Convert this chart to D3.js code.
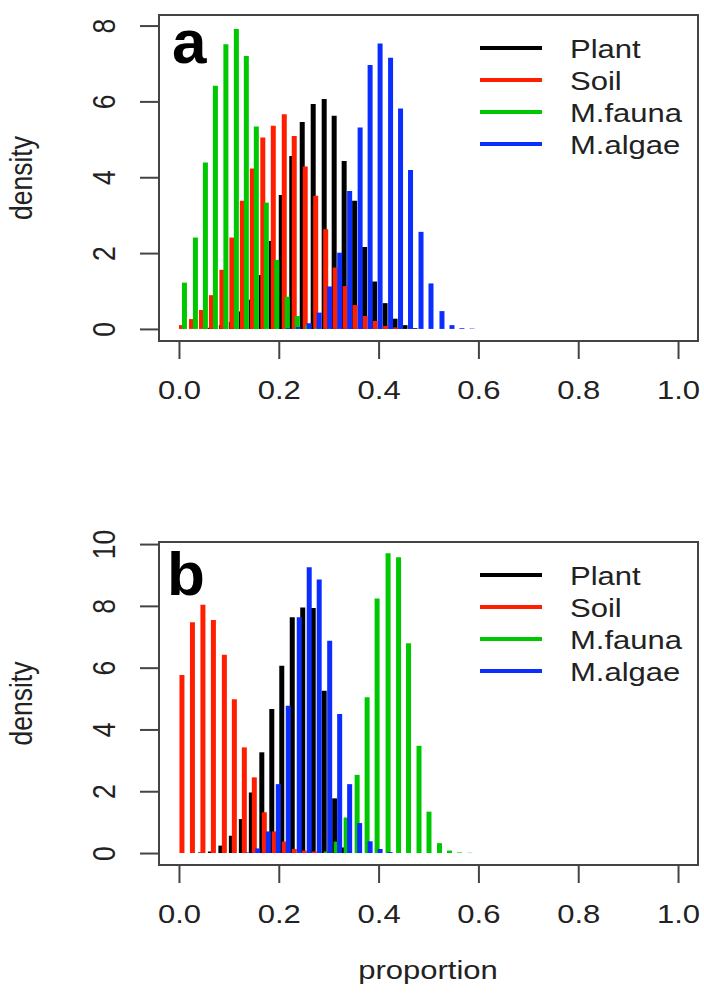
<!DOCTYPE html>
<html>
<head>
<meta charset="utf-8">
<script src="https://cdn.jsdelivr.net/npm/d3@7"></script>
<style>
  body { margin: 0; background: #fff; }
  svg text { font-family: "Liberation Sans", Arial, sans-serif; fill: #222; }
</style>
</head>
<body>
<div id="chart"></div>
<script>
// sources, in legend order
var sources = ["Plant", "Soil", "M.fauna", "M.algae"];
var sourceColors = ["#000000", "#ff1f00", "#00c800", "#0b2dff"];

var xTicks = [0, 0.2, 0.4, 0.6, 0.8, 1.0];
var yTicksA = [0, 2, 4, 6, 8];
var yTicksB = [0, 2, 4, 6, 8, 10];
var yMaxA = 7.96;
var yMaxB = 9.68;

// panel a : bin mids (proportion) and density
var aPlantX = [0.063, 0.085, 0.105, 0.125, 0.145, 0.165, 0.185, 0.205, 0.226, 0.247, 0.269, 0.291, 0.311, 0.331, 0.352, 0.372, 0.392, 0.413, 0.433, 0.453, 0.473];
var aPlantY = [0.03, 0.1, 0.18, 0.46, 0.77, 1.42, 2.32, 3.53, 4.56, 5.46, 5.93, 6.06, 5.62, 4.43, 3.38, 2.16, 1.25, 0.68, 0.27, 0.1, 0.02];
var aSoilX = [0.005, 0.025, 0.045, 0.065, 0.086, 0.106, 0.127, 0.147, 0.168, 0.189, 0.211, 0.231, 0.253, 0.274, 0.294, 0.313, 0.333, 0.353, 0.373, 0.393, 0.414, 0.434];
var aSoilY = [0.1, 0.26, 0.5, 0.89, 1.56, 2.41, 3.38, 4.23, 5.05, 5.36, 5.66, 5.09, 4.28, 3.51, 2.63, 1.62, 1.13, 0.63, 0.34, 0.21, 0.08, 0.04];
var aFaunaX = [0.011, 0.033, 0.053, 0.073, 0.094, 0.115, 0.135, 0.155, 0.175, 0.196, 0.217, 0.237, 0.258, 0.278];
var aFaunaY = [1.22, 2.41, 4.39, 6.41, 7.51, 7.91, 7.2, 5.34, 3.33, 1.82, 0.85, 0.34, 0.1, 0.03];
var aAlgaeX = [0.219, 0.239, 0.261, 0.281, 0.302, 0.322, 0.342, 0.363, 0.383, 0.403, 0.424, 0.444, 0.464, 0.485, 0.505, 0.527, 0.547, 0.567, 0.587];
var aAlgaeY = [0.02, 0.05, 0.15, 0.43, 1.12, 2.01, 3.64, 5.31, 6.96, 7.53, 7.15, 5.81, 4.19, 2.56, 1.2, 0.47, 0.1, 0.02, 0.01];

// panel b
var bPlantX = [0.043, 0.063, 0.084, 0.105, 0.125, 0.145, 0.166, 0.186, 0.206, 0.227, 0.248, 0.269, 0.291, 0.312, 0.331];
var bPlantY = [0.02, 0.05, 0.24, 0.56, 1.1, 1.96, 3.26, 4.66, 6.06, 7.63, 7.95, 7.93, 5.25, 1.77, 0.18];
var bSoilX = [0.006, 0.027, 0.048, 0.069, 0.091, 0.111, 0.131, 0.151, 0.171, 0.191, 0.211, 0.231, 0.251, 0.271];
var bSoilY = [5.76, 7.47, 8.04, 7.54, 6.42, 4.98, 3.42, 2.45, 1.32, 0.7, 0.37, 0.13, 0.08, 0.05];
var bFaunaX = [0.295, 0.315, 0.335, 0.357, 0.377, 0.397, 0.419, 0.44, 0.46, 0.481, 0.501, 0.522, 0.542, 0.562, 0.583];
var bFaunaY = [0.05, 0.37, 1.15, 2.53, 5.04, 8.24, 9.7, 9.57, 6.79, 3.47, 1.34, 0.32, 0.08, 0.02, 0.01];
var bAlgaeX = [0.138, 0.158, 0.179, 0.199, 0.219, 0.241, 0.261, 0.281, 0.302, 0.322, 0.342, 0.362, 0.383, 0.403, 0.423];
var bAlgaeY = [0.02, 0.15, 0.7, 2.23, 4.77, 7.63, 9.25, 8.85, 6.87, 4.5, 2.23, 0.97, 0.38, 0.13, 0.03];

var svgWidth = 704;
var svgHeight = 995;
var stretch = 1.17;   // the picture is a bit wider than tall
var fontSize = 26.5;

var svg = d3.select("#chart")
    .append("svg")
    .attr("width", svgWidth)
    .attr("height", svgHeight);

function drawPanel(opt) {
    var left = 159, right = 698;
    var top = opt.top, bottom = opt.bottom;

    // R style 4% padding
    var x = d3.scaleLinear()
        .domain([0 - 0.04, 1 + 0.04])
        .range([left, right]);
    var pad = opt.yMax * 0.04;
    var y = d3.scaleLinear()
        .domain([0 - pad, opt.yMax + pad])
        .range([bottom, top]);

    var g = svg.append("g");

    // bars, drawn like type="h"
    opt.series.forEach(function (s, i) {
        var pts = s.x.map(function (v, j) { return { p: v, d: s.y[j] }; });
        g.append("g").selectAll("line")
            .data(pts)
            .enter()
            .append("line")
            .attr("x1", d => x(d.p))
            .attr("x2", d => x(d.p))
            .attr("y1", y(0))
            .attr("y2", d => y(d.d))
            .attr("stroke", sourceColors[i])
            .attr("stroke-width", 5);
    });

    // box
    g.append("rect")
        .attr("x", left)
        .attr("y", top)
        .attr("width", right - left)
        .attr("height", bottom - top)
        .attr("fill", "none")
        .attr("stroke", "#444")
        .attr("stroke-width", 2);

    // x axis
    var xAxis = d3.axisBottom(x).tickValues(xTicks).tickSize(18).tickSizeOuter(0)
        .tickFormat(d3.format(".1f"));
    var xg = g.append("g")
        .attr("transform", `translate(0, ${bottom})`)
        .call(xAxis);
    xg.select(".domain").remove();
    xg.selectAll(".tick line").attr("stroke", "#444").attr("stroke-width", 2);
    xg.selectAll(".tick text")
        .attr("y", 0).attr("dy", 0)
        .attr("transform", `translate(0, 58) scale(${stretch}, 1)`)
        .attr("font-size", fontSize)
        .attr("font-family", null)
        .attr("fill", "#222");

    // y axis
    var yAxis = d3.axisLeft(y).tickValues(opt.yTicks).tickSize(19).tickSizeOuter(0);
    var yg = g.append("g")
        .attr("transform", `translate(${left}, 0)`)
        .call(yAxis);
    yg.select(".domain").remove();
    yg.selectAll(".tick line").attr("stroke", "#444").attr("stroke-width", 2);
    yg.selectAll(".tick text")
        .attr("x", 0).attr("dy", 0)
        .attr("text-anchor", "middle")
        .attr("transform", `translate(-44, 0) scale(${stretch}, 1) rotate(-90)`)
        .attr("font-size", fontSize)
        .attr("font-family", null)
        .attr("fill", "#222");

    // y label
    g.append("text")
        .attr("transform", `translate(32, ${(top + bottom) / 2}) scale(${stretch}, 1) rotate(-90)`)
        .attr("text-anchor", "middle")
        .attr("font-size", fontSize)
        .text("density");

    // panel letter
    g.append("text")
        .attr("x", opt.letterX)
        .attr("y", opt.letterY)
        .attr("font-size", 62)
        .attr("font-weight", "bold")
        .attr("fill", "#000")
        .style("fill", "#000")
        .text(opt.letter);

    // legend
    var legend = g.append("g").selectAll("g")
        .data(sources)
        .enter()
        .append("g")
        .attr("transform", (d, i) => `translate(0, ${top + 33 + i * 32})`);
    legend.append("line")
        .attr("x1", 480).attr("x2", 542)
        .attr("stroke", (d, i) => sourceColors[i])
        .attr("stroke-width", 4);
    legend.append("text")
        .attr("transform", `translate(570, 10) scale(${stretch}, 1)`)
        .attr("font-size", fontSize)
        .text(d => d);
}

drawPanel({
    top: 15, bottom: 341, yMax: yMaxA, yTicks: yTicksA,
    letter: "a", letterX: 172, letterY: 63,
    series: [
        { x: aPlantX, y: aPlantY },
        { x: aSoilX, y: aSoilY },
        { x: aFaunaX, y: aFaunaY },
        { x: aAlgaeX, y: aAlgaeY }
    ]
});

drawPanel({
    top: 542, bottom: 865, yMax: yMaxB, yTicks: yTicksB,
    letter: "b", letterX: 167, letterY: 595,
    series: [
        { x: bPlantX, y: bPlantY },
        { x: bSoilX, y: bSoilY },
        { x: bFaunaX, y: bFaunaY },
        { x: bAlgaeX, y: bAlgaeY }
    ]
});

svg.append("text")
    .attr("transform", `translate(428, 979) scale(${stretch}, 1)`)
    .attr("text-anchor", "middle")
    .attr("font-size", fontSize)
    .text("proportion");
</script>
</body>
</html>
